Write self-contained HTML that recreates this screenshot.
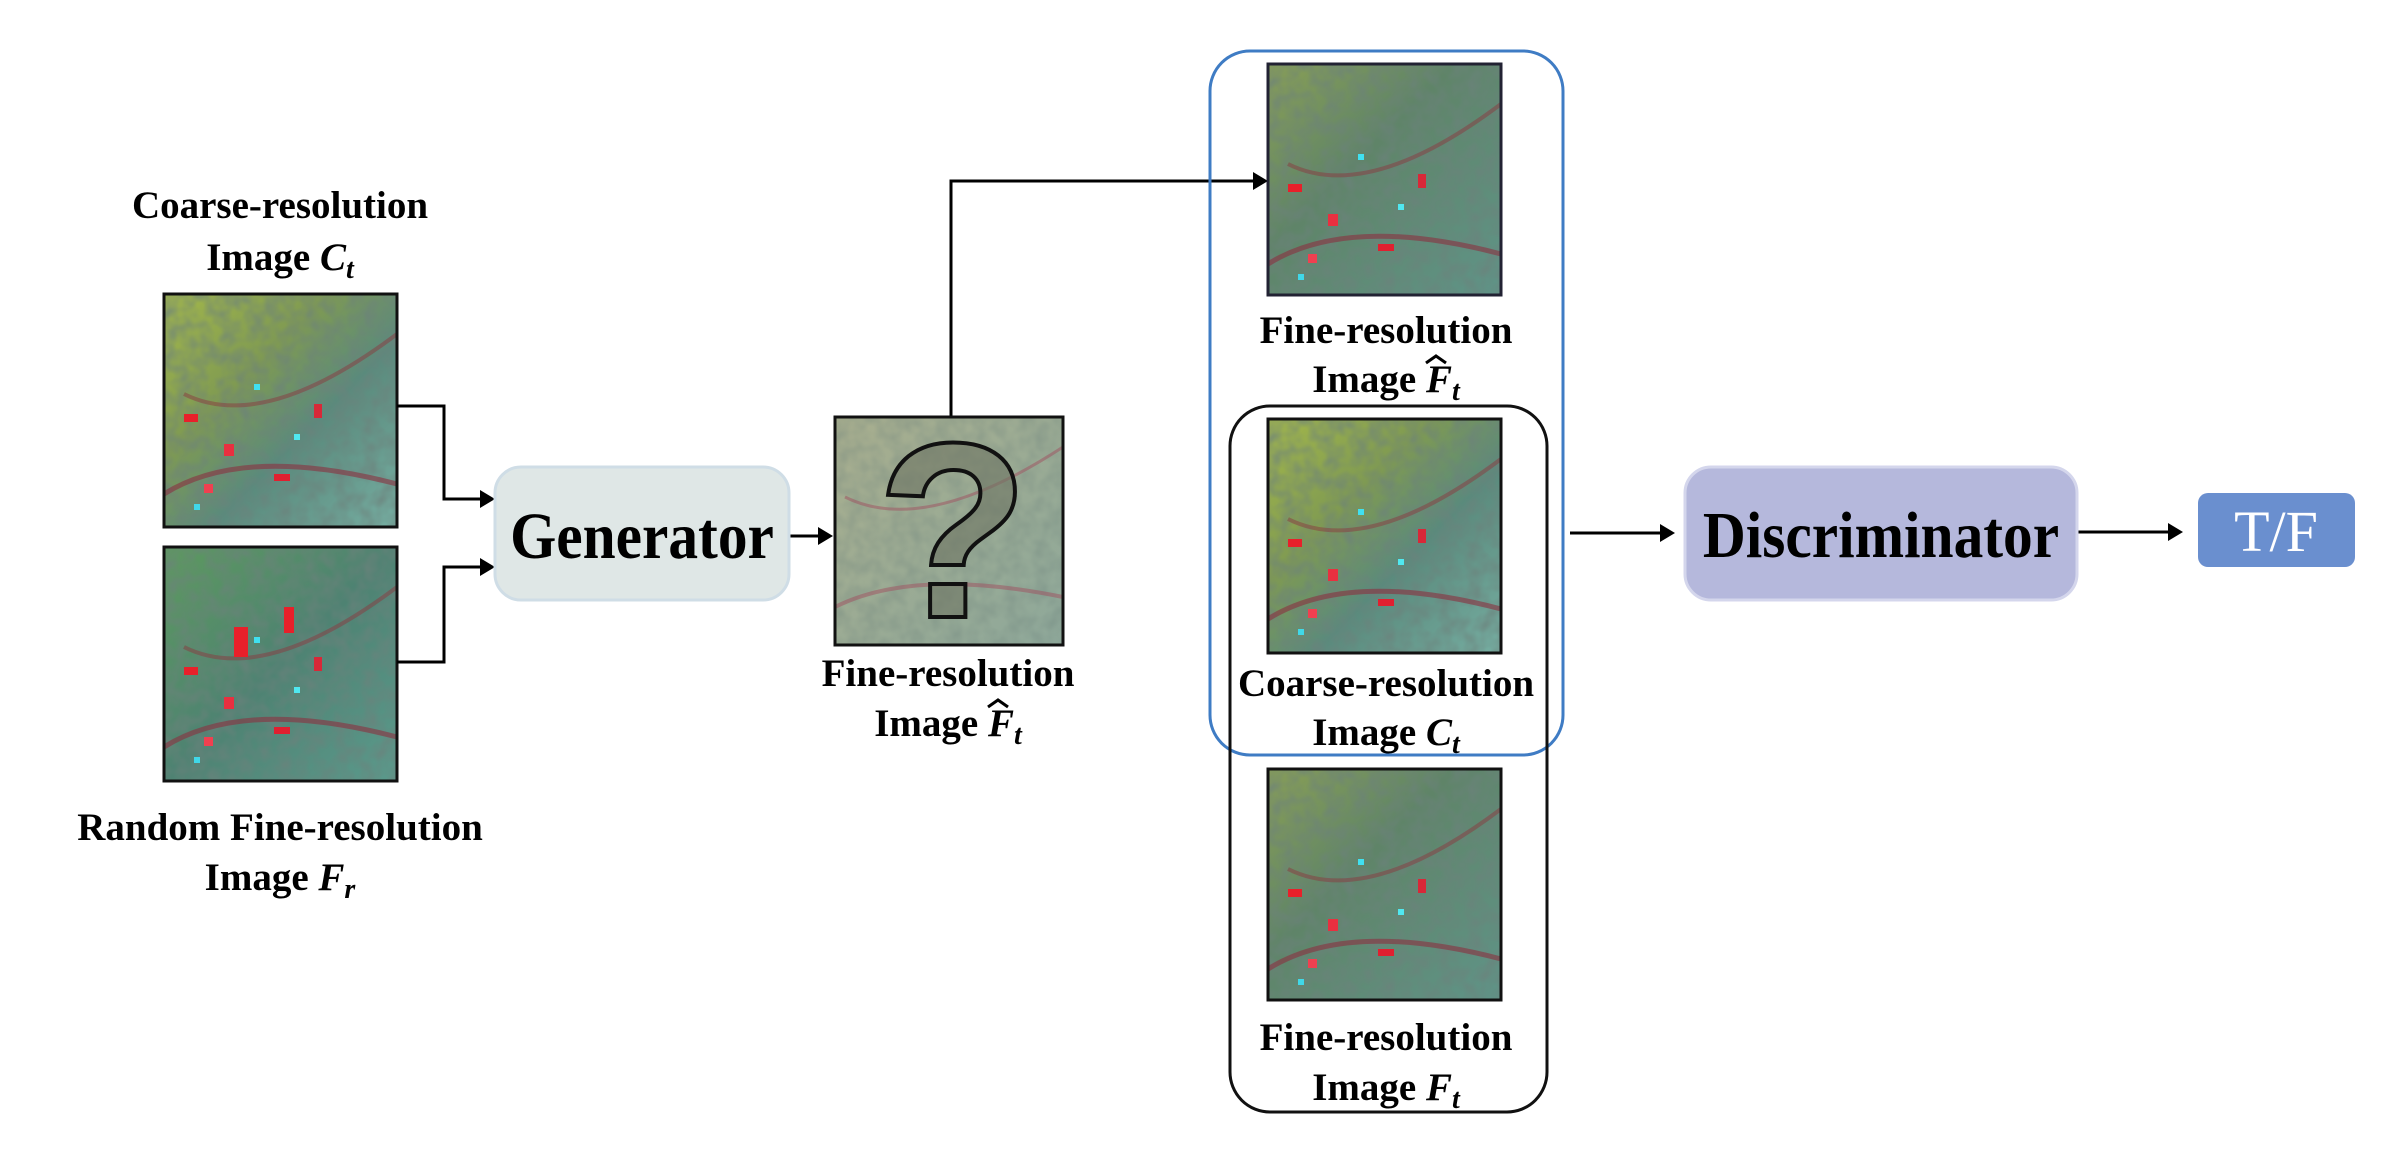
<!DOCTYPE html>
<html><head><meta charset="utf-8"><style>
html,body{margin:0;padding:0;background:#fff;}
svg{display:block;}
.lb{font-family:"Liberation Serif",serif;font-weight:bold;font-size:39px;fill:#000;}
.it{font-style:italic;}
</style></head><body>
<svg width="2390" height="1156" viewBox="0 0 2390 1156" xmlns="http://www.w3.org/2000/svg">
<defs>
  <linearGradient id="gC" x1="0" y1="0" x2="1" y2="1">
    <stop offset="0" stop-color="#a4b84a"/><stop offset="0.35" stop-color="#7f9a52"/>
    <stop offset="0.6" stop-color="#5a8a7c"/><stop offset="1" stop-color="#76aea2"/>
  </linearGradient>
  <linearGradient id="gF" x1="0" y1="0" x2="1" y2="1">
    <stop offset="0" stop-color="#8aa054"/><stop offset="0.4" stop-color="#5f8468"/>
    <stop offset="1" stop-color="#5f9488"/>
  </linearGradient>
  <linearGradient id="gR" x1="0" y1="0" x2="1" y2="1">
    <stop offset="0" stop-color="#5d9a5e"/><stop offset="0.5" stop-color="#4e8272"/>
    <stop offset="1" stop-color="#5b9a8c"/>
  </linearGradient>
  <linearGradient id="gQ" x1="0" y1="0" x2="1" y2="1">
    <stop offset="0" stop-color="#a8ae8e"/><stop offset="1" stop-color="#8ea89a"/>
  </linearGradient>
  <filter id="noise" x="0" y="0" width="100%" height="100%">
    <feTurbulence type="fractalNoise" baseFrequency="0.07" numOctaves="2" seed="3"/>
    <feColorMatrix type="matrix" values="0 0 0 0 0.15  0 0 0 0 0.22  0 0 0 0 0.2  0 0 0 1.2 -0.35"/>
  </filter>
  <g id="reds">
    <rect x="20" y="120" width="14" height="8" fill="#e8202a"/>
    <rect x="60" y="150" width="10" height="12" fill="#e83040"/>
    <rect x="110" y="180" width="16" height="7" fill="#e02030"/>
    <rect x="40" y="190" width="9" height="9" fill="#f04050"/>
    <rect x="150" y="110" width="8" height="14" fill="#d82838"/>
    <rect x="90" y="90" width="6" height="6" fill="#40e0f0"/>
    <rect x="130" y="140" width="6" height="6" fill="#50e8f0"/>
    <rect x="30" y="210" width="6" height="6" fill="#40d8e8"/>
    <path d="M0 200 Q80 150 233 190" stroke="#8a3040" stroke-width="5" fill="none" opacity="0.6"/>
    <path d="M20 100 Q100 140 233 40" stroke="#8a3a40" stroke-width="4" fill="none" opacity="0.5"/>
  </g>
</defs>

<text class="lb" x="280" y="218" text-anchor="middle">Coarse-resolution</text>
<text class="lb" x="280" y="270" text-anchor="middle">Image <tspan class="it">C</tspan><tspan class="it" font-size="28" dy="8">t</tspan></text>

<g transform="translate(164,294)">
  <rect width="233" height="233" fill="url(#gC)"/>
  <rect width="233" height="233" filter="url(#noise)"/>
  <use href="#reds"/>
  <rect width="233" height="233" fill="none" stroke="#111" stroke-width="3"/>
</g>
<g transform="translate(164,547)">
  <rect width="233" height="234" fill="url(#gR)"/>
  <rect width="233" height="234" filter="url(#noise)"/>
  <use href="#reds"/>
  <rect x="70" y="80" width="14" height="30" fill="#e8202a"/>
  <rect x="120" y="60" width="10" height="26" fill="#e8202a"/>
  <rect width="233" height="234" fill="none" stroke="#111" stroke-width="3"/>
</g>
<text class="lb" x="280" y="840" text-anchor="middle">Random Fine-resolution</text>
<text class="lb" x="280" y="890" text-anchor="middle">Image <tspan class="it">F</tspan><tspan class="it" font-size="28" dy="8">r</tspan></text>

<g stroke="#000" stroke-width="3" fill="none">
  <polyline points="397,406 444,406 444,499 482,499"/>
  <polyline points="397,662 444,662 444,567 482,567"/>
  <line x1="789" y1="536" x2="820" y2="536"/>
  <polyline points="951,417 951,181 1256,181"/>
  <line x1="1570" y1="533" x2="1662" y2="533"/>
  <line x1="2077" y1="532" x2="2170" y2="532"/>
</g>
<g fill="#000">
  <polygon points="495,499 480,490 480,508"/>
  <polygon points="495,567 480,558 480,576"/>
  <polygon points="833,536 818,527 818,545"/>
  <polygon points="1268,181 1253,172 1253,190"/>
  <polygon points="1675,533 1660,524 1660,542"/>
  <polygon points="2183,532 2168,523 2168,541"/>
</g>

<rect x="495" y="467" width="294" height="133" rx="26" fill="#dfe7e6" stroke="#cfdde6" stroke-width="3"/>
<text x="642" y="558" text-anchor="middle" font-family="Liberation Serif,serif" font-weight="bold" font-size="66" transform="translate(642 0) scale(0.9 1) translate(-642 0)">Generator</text>

<g transform="translate(835,417)">
  <rect width="228" height="228" fill="url(#gQ)"/>
  <rect width="228" height="228" filter="url(#noise)" opacity="0.5"/>
  <path d="M0 190 Q80 150 228 180" stroke="#a05060" stroke-width="4" fill="none" opacity="0.5"/>
  <path d="M10 80 Q90 120 228 30" stroke="#a05060" stroke-width="3" fill="none" opacity="0.5"/>
  <text x="118" y="200" text-anchor="middle" font-family="Liberation Sans,sans-serif" font-weight="bold" font-size="250" fill="#6e7462" fill-opacity="0.6" stroke="#111" stroke-width="4">?</text>
  <rect width="228" height="228" fill="none" stroke="#111" stroke-width="3"/>
</g>
<text class="lb" x="948" y="686" text-anchor="middle">Fine-resolution</text>
<text class="lb" x="948" y="736" text-anchor="middle">Image <tspan class="it">F</tspan><tspan class="it" font-size="28" dy="8">t</tspan></text>
<polyline points="988,707 998,700 1008,707" stroke="#000" stroke-width="3" fill="none"/>

<rect x="1210" y="51" width="353" height="704" rx="40" fill="none" stroke="#3f7cc4" stroke-width="3"/>
<rect x="1230" y="406" width="317" height="706" rx="40" fill="none" stroke="#111" stroke-width="3"/>

<g transform="translate(1268,64)">
  <rect width="233" height="231" fill="url(#gF)"/>
  <rect width="233" height="231" filter="url(#noise)"/>
  <use href="#reds"/>
  <rect width="233" height="231" fill="none" stroke="#223" stroke-width="3"/>
</g>
<text class="lb" x="1386" y="343" text-anchor="middle">Fine-resolution</text>
<text class="lb" x="1386" y="392" text-anchor="middle">Image <tspan class="it">F</tspan><tspan class="it" font-size="28" dy="8">t</tspan></text>
<polyline points="1426,363 1436,356 1446,363" stroke="#000" stroke-width="3" fill="none"/>

<g transform="translate(1268,419)">
  <rect width="233" height="234" fill="url(#gC)"/>
  <rect width="233" height="234" filter="url(#noise)"/>
  <use href="#reds"/>
  <rect width="233" height="234" fill="none" stroke="#111" stroke-width="3"/>
</g>
<text class="lb" x="1386" y="696" text-anchor="middle">Coarse-resolution</text>
<text class="lb" x="1386" y="745" text-anchor="middle">Image <tspan class="it">C</tspan><tspan class="it" font-size="28" dy="8">t</tspan></text>

<g transform="translate(1268,769)">
  <rect width="233" height="231" fill="url(#gF)"/>
  <rect width="233" height="231" filter="url(#noise)"/>
  <use href="#reds"/>
  <rect width="233" height="231" fill="none" stroke="#111" stroke-width="3"/>
</g>
<text class="lb" x="1386" y="1050" text-anchor="middle">Fine-resolution</text>
<text class="lb" x="1386" y="1100" text-anchor="middle">Image <tspan class="it">F</tspan><tspan class="it" font-size="28" dy="8">t</tspan></text>

<rect x="1685" y="467" width="392" height="133" rx="26" fill="#b5b8dc" stroke="#d4d6ec" stroke-width="3"/>
<text x="1881" y="557" text-anchor="middle" font-family="Liberation Serif,serif" font-weight="bold" font-size="66" transform="translate(1881 0) scale(0.9 1) translate(-1881 0)">Discriminator</text>

<rect x="2198" y="493" width="157" height="74" rx="10" fill="#6a8fcf"/>
<text x="2276" y="551" text-anchor="middle" font-family="Liberation Serif,serif" font-size="58" fill="#fff">T/F</text>
</svg>
</body></html>
